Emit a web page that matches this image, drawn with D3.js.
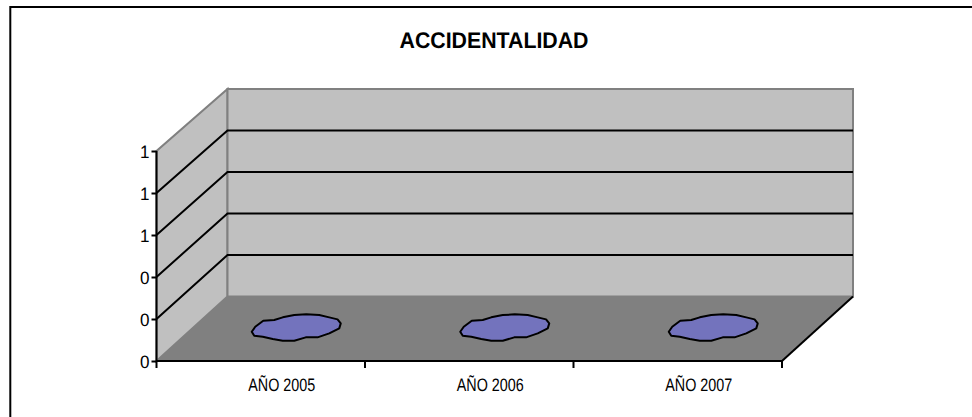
<!DOCTYPE html>
<html>
<head>
<meta charset="utf-8">
<script src="https://cdn.jsdelivr.net/npm/d3@7"></script>
<style>
  html, body { margin: 0; padding: 0; background: #fff; overflow: hidden; }
  svg { display: block; }
  text { font-family: "Liberation Sans", Arial, sans-serif; fill: #000; text-rendering: geometricPrecision; }
</style>
</head>
<body>
<svg id="chart" width="972" height="417"></svg>
<script>
const categories = ["AÑO 2005", "AÑO 2006", "AÑO 2007"];
const accidentes = [0, 0, 0];
const yTicks = [0, 0.2, 0.4, 0.6, 0.8, 1];
const yTickLabels = ["0", "0", "0", "1", "1", "1"];
const chartTitle = "ACCIDENTALIDAD";

// outline of the flattened 3d slice that a zero value leaves on the floor
const blobShape = [
  [-44.5, 3], [-41, -2], [-33, -8], [-22, -8.7], [-13.5, -11.4], [-2, -13.7],
  [10, -14.4], [23, -13.7], [33, -11.4], [41.3, -9.4], [44.5, -5.4], [43, -0.4],
  [33, 4.6], [21.3, 8.6], [9.5, 8.6], [-2, 12], [-13.5, 12], [-23.5, 10.3],
  [-33.5, 8], [-42, 7]
];

var svg = d3.select("#chart");

var x0 = 156.5, x1 = 782;
var depthX = 71;

var x = d3.scaleBand().domain(categories).range([x0, x1]);
var y = d3.scaleLinear().domain([0, 1]).range([361, 151]);
// back wall is a little shorter than the front edge
var yBack = d3.scaleLinear().domain([0, 1]).range([296.5, 89]);

// outer frame, runs off the right and bottom of the picture
svg.append("rect")
  .attr("x", 10.3).attr("y", 7).attr("width", 1000).attr("height", 450)
  .attr("fill", "#fff").attr("stroke", "#000").attr("stroke-width", 2);

svg.append("text")
  .attr("x", 494).attr("y", 48)
  .attr("text-anchor", "middle")
  .attr("font-size", 22.5).attr("font-weight", "bold")
  .attr("textLength", 189).attr("lengthAdjust", "spacingAndGlyphs")
  .text(chartTitle);

// walls and floor
function pts(points) {
  return points.map(function (p) { return p.join(","); }).join(" ");
}
function poly(points, fill, stroke) {
  svg.append("polygon")
    .attr("points", pts(points))
    .attr("fill", fill)
    .attr("stroke", stroke)
    .attr("stroke-width", 2);
}
poly([[x0 + depthX, yBack(0)], [x1 + depthX, yBack(0)], [x1, y(0)], [x0, y(0)]], "#808080", "none");
poly([[x0, y(0)], [x0 + depthX, yBack(0)], [x0 + depthX, yBack(1)], [x0, y(1)]], "#c0c0c0", "#808080");
poly([[x0 + depthX, yBack(0)], [x1 + depthX, yBack(0)], [x1 + depthX, yBack(1)], [x0 + depthX, yBack(1)]], "#c0c0c0", "#808080");

// gridlines along side and back wall
var grid = svg.append("g").attr("fill", "none").attr("stroke", "#000").attr("stroke-width", 2);
yTicks.slice(1, -1).forEach(function (t) {
  grid.append("polyline")
    .attr("points", pts([
      [x0, y(t)],
      [x0 + depthX, yBack(t)],
      [x1 + depthX, yBack(t)]
    ]));
});

// front right floor edge
svg.append("line")
  .attr("x1", x1).attr("y1", y(0))
  .attr("x2", x1 + depthX).attr("y2", yBack(0))
  .attr("stroke", "#000").attr("stroke-width", 2);

// zero height slices
var blobLine = d3.line().curve(d3.curveLinearClosed);
svg.append("g").selectAll("path")
  .data(accidentes)
  .join("path")
  .attr("transform", function (d, i) {
    var cx = x(categories[i]) + x.bandwidth() / 2 + depthX / 2;
    return "translate(" + cx + "," + ((y(d) + yBack(d)) / 2) + ")";
  })
  .attr("d", blobLine(blobShape))
  .attr("fill", "#7373bd")
  .attr("stroke", "#000")
  .attr("stroke-width", 2)
  .attr("stroke-linejoin", "round");

// axes
var yAxis = d3.axisLeft(y)
  .tickValues(yTicks)
  .tickSize(5)
  .tickPadding(2)
  .tickFormat(function (d, i) { return yTickLabels[i]; });

var gy = svg.append("g").attr("transform", "translate(" + x0 + ",0)").call(yAxis);
gy.selectAll("line, path").attr("stroke", "#000").attr("stroke-width", 2);
gy.select("path").attr("d", "M0," + y(1) + "V" + y(0));
gy.selectAll("text")
  .attr("font-size", 18)
  .attr("font-family", '"Liberation Sans", Arial, sans-serif')
  .attr("fill", "#000")
  .attr("dy", "0.38em")
  .attr("textLength", 9.5)
  .attr("lengthAdjust", "spacingAndGlyphs");

var xAxis = d3.axisBottom(x).tickSize(0).tickPadding(0);
var gx = svg.append("g").attr("transform", "translate(0," + y(0) + ")").call(xAxis);
gx.selectAll("line").remove();
gx.select("path").attr("stroke", "#000").attr("stroke-width", 2).attr("d", "M" + x0 + ",0H" + x1);
// labels sit to the right of the band centre, as on the floor of the 3d box
gx.selectAll("text")
  .attr("font-size", 18)
  .attr("font-family", '"Liberation Sans", Arial, sans-serif')
  .attr("fill", "#222")
  .attr("dx", 21)
  .attr("y", 29.5)
  .attr("dy", 0)
  .attr("textLength", 67)
  .attr("lengthAdjust", "spacingAndGlyphs");

// ticks sit between the categories
var tickPos = categories.map(function (c) { return x(c); }).concat([x1]);
gx.selectAll(".sep").data(tickPos).join("line")
  .attr("class", "sep")
  .attr("x1", function (d) { return d; }).attr("x2", function (d) { return d; })
  .attr("y1", 0).attr("y2", 7)
  .attr("stroke", "#000").attr("stroke-width", 2);
</script>
</body>
</html>
